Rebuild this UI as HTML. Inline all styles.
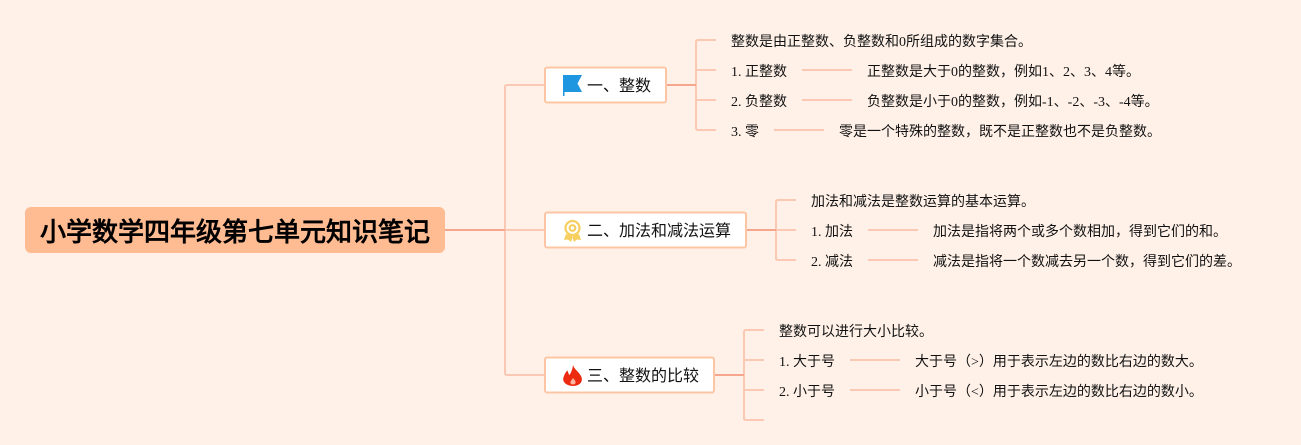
<!DOCTYPE html>
<html lang="zh-CN"><head><meta charset="utf-8">
<style>
html,body{margin:0;padding:0;background:#fff1e8;width:1301px;height:445px;overflow:hidden}
svg{display:block}
text{font-family:serif;fill:#111;dominant-baseline:auto}
.l{font-size:14px}.b{font-size:16px}
.t{font-size:26px;font-weight:bold;fill:#000}
.c{fill:none;stroke:#fbc8b3;stroke-width:2}
.d{fill:none;stroke:#f6a68c;stroke-width:2}
.n{fill:#fff;stroke:#fcc6a5;stroke-width:2}
</style></head><body>
<svg width="1301" height="445" viewBox="0 0 1301 445" xmlns="http://www.w3.org/2000/svg">
<rect width="1301" height="445" fill="#fff1e8"/>
<path class="c" d="M545 85H507Q505 85 505 87V373Q505 375 507 375H545M505 230H545"/>
<path class="d" d="M445 230H505"/>
<path class="c" d="M716 40H698Q696 40 696 42V128Q696 130 698 130H716M696 70H716M696 100H716"/>
<path class="d" d="M667 85H696"/>
<path class="c" d="M802 70H852M802 100H852M774 130H824"/>
<path class="c" d="M796 200H778Q776 200 776 202V258Q776 260 778 260H796M776 230H796"/>
<path class="d" d="M747 230H776"/>
<path class="c" d="M868 230H918M868 260H918"/>
<path class="c" d="M764 330H746Q744 330 744 332V418Q744 420 746 420H764M744 360H764M744 390H764"/>
<path class="d" d="M715 375H744"/>
<path class="c" d="M850 360H900M850 390H900"/>
<rect x="25" y="207" width="420" height="46" rx="6" fill="#ffbb92"/>
<text class="t" x="40" y="241">小学数学四年级第七单元知识笔记</text>
<rect class="n" x="545" y="67.500" width="121" height="35" rx="2"/>
<rect class="n" x="545" y="212.500" width="201" height="35" rx="2"/>
<rect class="n" x="545" y="357.500" width="169" height="35" rx="2"/>
<path d="M563 75H582L577.500 83.500L582 92H564.500V96H563Z" fill="#1f97e0"/>
<g fill="none" stroke="#f7cf5e" stroke-width="2.200"><circle cx="572.500" cy="228" r="7"/><circle cx="572.500" cy="228" r="2.800"/></g>
<path d="M566 234L564 240L568 239.500L571 242L573 236ZM579 234L581 240L577 239.500L574 242L572 236Z" fill="#f7cf5e"/>
<path d="M573 365C574 369 578 371 581 376C584 382 579 386 573 386C567 386 561 382 564 376C565 373 566 372 567.500 370.500C568.500 373 568.500 374 569.500 375C571.500 372 572.500 369 573 365Z" fill="#ec2a10"/>
<path d="M573 378C574.500 380 576 381 575.500 383C575 385 571 385 570.500 383C570 381 572 380 573 378Z" fill="#fbb7a0"/>
<text class="b" x="587" y="91">一、整数</text>
<text class="b" x="587" y="236">二、加法和减法运算</text>
<text class="b" x="587" y="381">三、整数的比较</text>
<text class="l" x="731" y="46">整数是由正整数、负整数和0所组成的数字集合。</text>
<text class="l" x="731" y="76">1. 正整数</text>
<text class="l" x="731" y="106">2. 负整数</text>
<text class="l" x="731" y="136">3. 零</text>
<text class="l" x="867" y="76">正整数是大于0的整数，例如1、2、3、4等。</text>
<text class="l" x="867" y="106">负整数是小于0的整数，例如-1、-2、-3、-4等。</text>
<text class="l" x="839" y="136">零是一个特殊的整数，既不是正整数也不是负整数。</text>
<text class="l" x="811" y="206">加法和减法是整数运算的基本运算。</text>
<text class="l" x="811" y="236">1. 加法</text>
<text class="l" x="811" y="266">2. 减法</text>
<text class="l" x="933" y="236">加法是指将两个或多个数相加，得到它们的和。</text>
<text class="l" x="933" y="266">减法是指将一个数减去另一个数，得到它们的差。</text>
<text class="l" x="779" y="336">整数可以进行大小比较。</text>
<text class="l" x="779" y="366">1. 大于号</text>
<text class="l" x="779" y="396">2. 小于号</text>
<text class="l" x="915" y="366">大于号（&gt;）用于表示左边的数比右边的数大。</text>
<text class="l" x="915" y="396">小于号（&lt;）用于表示左边的数比右边的数小。</text>
</svg>
</body></html>
